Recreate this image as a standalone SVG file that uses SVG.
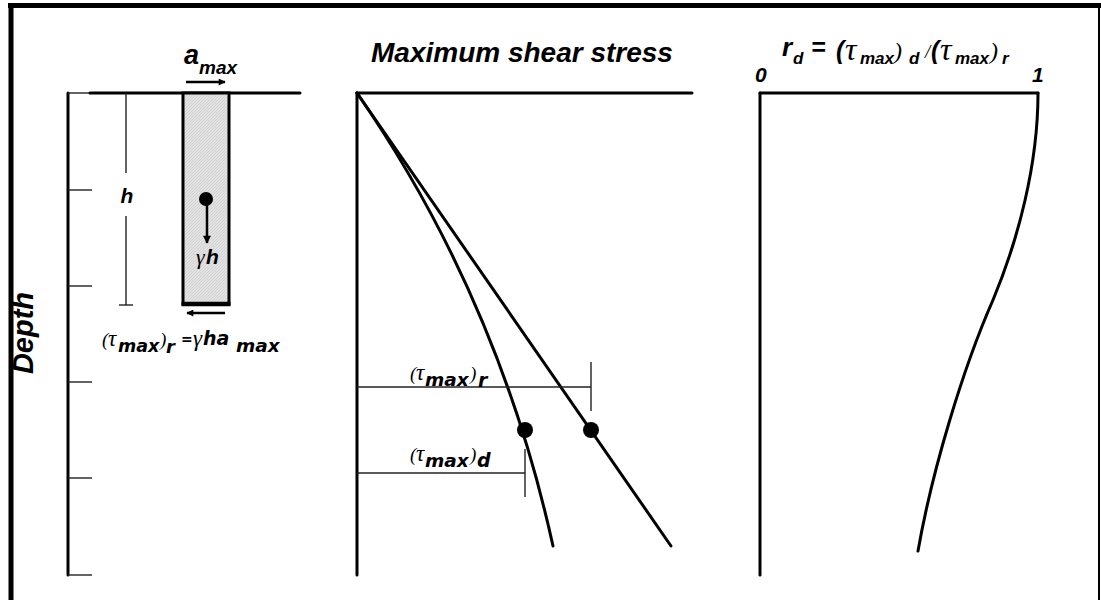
<svg xmlns="http://www.w3.org/2000/svg" width="1101" height="600" viewBox="0 0 1101 600">
<defs>
<style>
.thick{stroke:#000;stroke-width:3;fill:none;stroke-linecap:round}
.thin{stroke:#222;stroke-width:1.4;fill:none}
.frame{stroke:#000;fill:none}
.sb{font-family:"Liberation Sans",Arial,sans-serif;font-weight:bold;font-style:italic;fill:#000}
.dv{font-family:"DejaVu Sans",Verdana,sans-serif;font-weight:bold;font-style:italic;fill:#000}
.gr{font-family:"Liberation Serif","Times New Roman",serif;font-style:italic;fill:#000}
</style>
<pattern id="hatch" width="3" height="3" patternUnits="userSpaceOnUse">
<rect width="3" height="3" fill="#e2e2e2"/>
<path d="M0,3 L3,0" stroke="#c8c8c8" stroke-width="0.6"/>
</pattern>
<marker id="ah" viewBox="0 0 10 10" refX="9" refY="5" markerWidth="10" markerHeight="7" markerUnits="userSpaceOnUse" orient="auto">
<path d="M0,0 L10,5 L0,10 z" fill="#000"/>
</marker>
<marker id="ahd" viewBox="0 0 10 10" refX="9" refY="5" markerWidth="12" markerHeight="8" markerUnits="userSpaceOnUse" orient="auto">
<path d="M0,0 L10,5 L0,10 z" fill="#000"/>
</marker>
</defs>
<rect width="1101" height="600" fill="#fff"/>

<g id="frame">
<line class="frame" x1="8" y1="5.5" x2="1101" y2="5.5" stroke-width="5"/>
<line class="frame" x1="11" y1="3" x2="11" y2="600" stroke-width="5"/>
<line class="frame" x1="1099" y1="5" x2="1099" y2="600" stroke-width="2"/>
</g>

<g id="left-panel">
<g id="left-axis">
<line class="thick" x1="68" y1="93" x2="68" y2="575" stroke-width="2.5" stroke-linecap="butt"/>
<line class="thin" x1="68" y1="93" x2="91" y2="93"/>
<line class="thin" x1="68" y1="190" x2="92" y2="190"/>
<line class="thin" x1="68" y1="286" x2="92" y2="286"/>
<line class="thin" x1="68" y1="382" x2="92" y2="382"/>
<line class="thin" x1="68" y1="478" x2="92" y2="478"/>
<line class="thin" x1="68" y1="575" x2="92" y2="575"/>
</g>
<g id="ground">
<line class="thick" x1="90" y1="93" x2="300" y2="93" stroke-linecap="butt"/>
</g>
<g id="soil-column">
<rect x="183" y="93" width="46" height="211" fill="url(#hatch)" stroke="#000" stroke-width="3"/>
<line x1="181.5" y1="304" x2="230.5" y2="304" stroke="#000" stroke-width="4.5"/>
<circle cx="206" cy="199" r="7" fill="#000"/>
<line x1="207" y1="204" x2="207" y2="243" stroke="#000" stroke-width="2.5" marker-end="url(#ahd)"/>
<text x="196" y="264" class="gr" font-size="22">γ</text>
<text x="206" y="264" class="sb" font-size="21">h</text>
</g>
<g id="amax">
<line x1="186" y1="82" x2="225" y2="82" stroke="#000" stroke-width="2.5" marker-end="url(#ah)"/>
<text x="184" y="64" class="sb" font-size="27">a</text>
<text x="199" y="74" class="sb" font-size="19">max</text>
</g>
<g id="bottom-shear">
<line x1="225" y1="313" x2="187" y2="313" stroke="#000" stroke-width="2.5" marker-end="url(#ah)"/>
</g>
<g id="h-dim">
<line class="thin" x1="126" y1="93" x2="126" y2="173"/>
<line class="thin" x1="126" y1="216" x2="126" y2="305"/>
<line class="thin" x1="119" y1="305" x2="133" y2="305"/>
<text x="127" y="203" class="sb" font-size="21" text-anchor="middle">h</text>
</g>
<g id="tau-r-eq">
<text x="102" y="346" class="gr" font-size="19">(</text>
<text x="108" y="346" class="gr" font-size="23">τ</text>
<text x="118" y="352" class="dv" font-size="17.5">max</text>
<text x="160" y="346" class="gr" font-size="19">)</text>
<text x="166" y="353" class="dv" font-size="18">r</text>
<text x="181" y="344" class="dv" font-size="14">=</text>
<text x="193" y="346" class="gr" font-size="23">γ</text>
<text x="203" y="345" class="dv" font-size="19">ha</text>
<text x="236" y="352" class="dv" font-size="18.5">max</text>
</g>
<g id="depth-label">
<text transform="translate(33,333) rotate(-90)" class="sb" font-size="29" text-anchor="middle">Depth</text>
</g>
</g>

<g id="middle-panel">
<text x="371" y="62" class="sb" font-size="28">Maximum shear stress</text>
<g id="mid-axes">
<line class="thick" x1="357" y1="93" x2="357" y2="575"/>
<line class="thick" x1="357" y1="93" x2="692" y2="93"/>
</g>
<g id="connectors">
<path class="thick" d="M357,93 L671,546"/>
<path class="thick" d="M357,93 C461,243 520,396 553,546"/>
</g>
<circle cx="525" cy="430" r="8" fill="#000"/>
<circle cx="591" cy="430" r="8" fill="#000"/>
<g id="dim-r">
<line class="thin" x1="357" y1="387" x2="591" y2="387"/>
<line class="thin" x1="591" y1="362" x2="591" y2="411"/>
<text x="410" y="380" class="gr" font-size="19">(</text>
<text x="416" y="380" class="gr" font-size="23">τ</text>
<text x="425" y="386" class="dv" font-size="18.5">max</text>
<text x="470" y="380" class="gr" font-size="19">)</text>
<text x="478" y="387" class="dv" font-size="19">r</text>
</g>
<g id="dim-d">
<line class="thin" x1="357" y1="473" x2="525" y2="473"/>
<line class="thin" x1="525" y1="449" x2="525" y2="497"/>
<text x="410" y="461" class="gr" font-size="19">(</text>
<text x="416" y="461" class="gr" font-size="23">τ</text>
<text x="425" y="467" class="dv" font-size="18.5">max</text>
<text x="470" y="461" class="gr" font-size="19">)</text>
<text x="477" y="467" class="dv" font-size="19">d</text>
</g>
</g>

<g id="right-panel">
<g id="rd-title">
<text x="782" y="56" class="sb" font-size="26">r</text>
<text x="793" y="64" class="sb" font-size="17">d</text>
<text x="811" y="56" class="sb" font-size="25">=</text>
<text x="836" y="59" class="sb" font-size="25">(</text>
<text x="845" y="60" class="gr" font-size="32">τ</text>
<text x="860" y="64" class="sb" font-size="17">max</text>
<text x="894" y="59" class="gr" font-size="24">)</text>
<text x="909" y="64" class="sb" font-size="17">d</text>
<text x="925" y="58" class="gr" font-size="19">/</text>
<text x="931" y="59" class="sb" font-size="25">(</text>
<text x="940" y="60" class="gr" font-size="32">τ</text>
<text x="955" y="64" class="sb" font-size="17">max</text>
<text x="990" y="59" class="gr" font-size="24">)</text>
<text x="1002" y="64" class="sb" font-size="17">r</text>
</g>
<text x="755" y="82" class="sb" font-size="21">0</text>
<text x="1032" y="82" class="sb" font-size="21">1</text>
<g id="right-axes">
<line class="thick" x1="760" y1="93" x2="760" y2="575"/>
<line class="thick" x1="760" y1="93" x2="1038" y2="93"/>
</g>
<path class="thick" d="M1038,93 C1038,165 1018,240 993,300 C963,368 932,471 918,551"/>
</g>
</svg>
